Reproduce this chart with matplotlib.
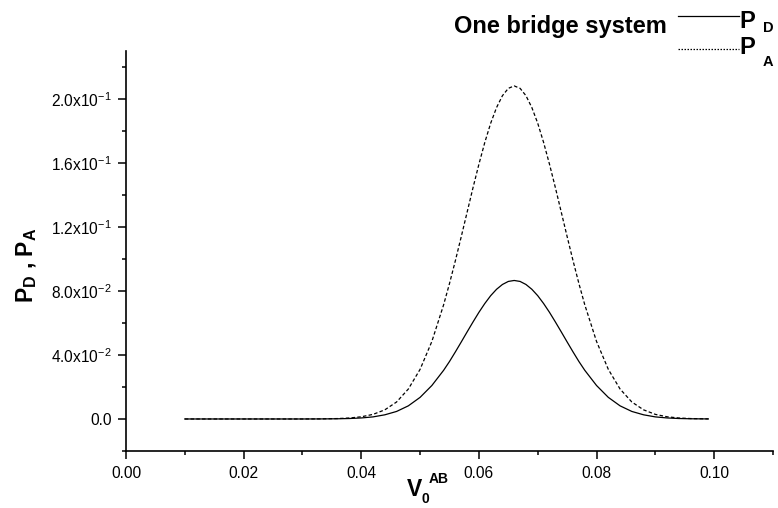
import matplotlib
matplotlib.use("Agg")
import matplotlib.pyplot as plt
from matplotlib.lines import Line2D
from matplotlib.ticker import MultipleLocator, FixedLocator, FixedFormatter

plt.rcParams['font.family'] = ['Liberation Sans', 'DejaVu Sans']
plt.rcParams['mathtext.fontset'] = 'custom'
plt.rcParams['mathtext.rm'] = 'Liberation Sans'
plt.rcParams['mathtext.it'] = 'Liberation Sans:italic'
plt.rcParams['mathtext.bf'] = 'Liberation Sans:bold'

# ---- data ----
v0 = [0.010, 0.020, 0.030, 0.033, 0.036, 0.038, 0.040, 0.042, 0.044, 0.046,
      0.048, 0.050, 0.052, 0.054, 0.055, 0.056, 0.057, 0.058, 0.059, 0.060,
      0.061, 0.062, 0.063, 0.064, 0.065, 0.066, 0.067, 0.068, 0.069, 0.070,
      0.071, 0.072, 0.073, 0.074, 0.075, 0.076, 0.077, 0.078, 0.080, 0.082,
      0.084, 0.086, 0.088, 0.090, 0.092, 0.094, 0.096, 0.099]
p_a = [0.0, 0.0, 0.0, 0.00006, 0.00026, 0.00061, 0.00136, 0.00287, 0.0057, 0.0106,
       0.0187, 0.0310, 0.0484, 0.0713, 0.0846, 0.0989, 0.1139, 0.1292, 0.1445, 0.1591,
       0.1727, 0.1847, 0.1945, 0.2019, 0.2065, 0.2080, 0.2065, 0.2019, 0.1945, 0.1847,
       0.1727, 0.1591, 0.1445, 0.1292, 0.1139, 0.0989, 0.0846, 0.0713, 0.0484, 0.0310,
       0.0187, 0.0106, 0.0057, 0.00287, 0.00136, 0.00061, 0.00026, 0.00006]
p_d = [0.0, 0.0, 0.0, 0.00003, 0.00013, 0.00029, 0.00064, 0.0013, 0.0026, 0.0047,
       0.0082, 0.0135, 0.0209, 0.0304, 0.0359, 0.0419, 0.0481, 0.0544, 0.0606, 0.0666,
       0.0721, 0.0770, 0.0810, 0.0840, 0.0859, 0.0865, 0.0859, 0.0840, 0.0810, 0.0770,
       0.0721, 0.0666, 0.0606, 0.0544, 0.0481, 0.0419, 0.0359, 0.0304, 0.0209, 0.0135,
       0.0082, 0.0047, 0.0026, 0.0013, 0.00064, 0.00029, 0.00013, 0.00003]

x_ticks = [0.00, 0.02, 0.04, 0.06, 0.08, 0.10]
x_labels = ['0.00', '0.02', '0.04', '0.06', '0.08', '0.10']
y_ticks = [0.0, 0.04, 0.08, 0.12, 0.16, 0.20]
y_labels = ['0.0', '4.0x10$^{-2}$', '8.0x10$^{-2}$', '1.2x10$^{-1}$',
            '1.6x10$^{-1}$', '2.0x10$^{-1}$']

W, H = 778, 508
fig = plt.figure(figsize=(W / 100, H / 100), dpi=100)
ax = fig.add_axes([126 / W, 1 - 451 / H, (773 - 126) / W, (451 - 50.7) / H])

ax.plot(v0, p_d, color='black', lw=0.9, linestyle='-')
ax.plot(v0, p_a, color='black', lw=0.9, linestyle=(0, (2.8, 1.8)))

ax.set_xlim(0.0, 0.11)
ax.set_ylim(-0.02, 0.23)

for s in ['top', 'right']:
    ax.spines[s].set_visible(False)
for s in ['left', 'bottom']:
    ax.spines[s].set_linewidth(1.2)

ax.xaxis.set_major_locator(FixedLocator(x_ticks))
ax.xaxis.set_major_formatter(FixedFormatter(x_labels))
ax.xaxis.set_minor_locator(MultipleLocator(0.01))
ax.yaxis.set_major_locator(FixedLocator(y_ticks))
ax.yaxis.set_major_formatter(FixedFormatter(y_labels))
ax.yaxis.set_minor_locator(MultipleLocator(0.02))

ax.tick_params(which='major', direction='out', length=6, width=1.1,
               labelsize=11.2, pad=4.5)
ax.tick_params(which='minor', direction='out', length=3.2, width=1.1)

def px(x, y):
    return x / W, 1 - y / H

# x axis label  V_0^AB
fig.text(*px(406.5, 496), 'V', fontsize=16.5, fontweight='bold', ha='left', va='baseline')
fig.text(*px(422, 503), '0', fontsize=10, fontweight='bold', ha='left', va='baseline')
fig.text(*px(429, 483), 'AB', fontsize=10, fontweight='bold', ha='left', va='baseline')

# y axis label  P_D , P_A
fig.text(*px(27, 265), r'$\mathbf{P}_\mathbf{D}\ \mathbf{,}\ \mathbf{P}_\mathbf{A}$',
         fontsize=16.5, rotation=90, ha='center', va='center')

# title
fig.text(*px(667, 33), 'One bridge system', fontsize=17,
         fontweight='bold', ha='right', va='baseline')

# legend (figure coordinates)
fig.add_artist(Line2D([677.7 / W, 738.7 / W], [1 - 15.7 / H, 1 - 15.7 / H],
                      color='black', lw=0.9, linestyle='-'))
fig.add_artist(Line2D([677.7 / W, 738.7 / W], [1 - 49.3 / H, 1 - 49.3 / H],
                      color='black', lw=0.9, linestyle=(0, (1.2, 1.2))))
fig.text(*px(739.5, 28), 'P', fontsize=17, fontweight='bold', ha='left', va='baseline')
fig.text(*px(762.5, 32), 'D', fontsize=10.5, fontweight='bold', ha='left', va='baseline')
fig.text(*px(739.5, 54.3), 'P', fontsize=17, fontweight='bold', ha='left', va='baseline')
fig.text(*px(762.5, 66), 'A', fontsize=10.5, fontweight='bold', ha='left', va='baseline')

fig.savefig('out.png', dpi=100)
